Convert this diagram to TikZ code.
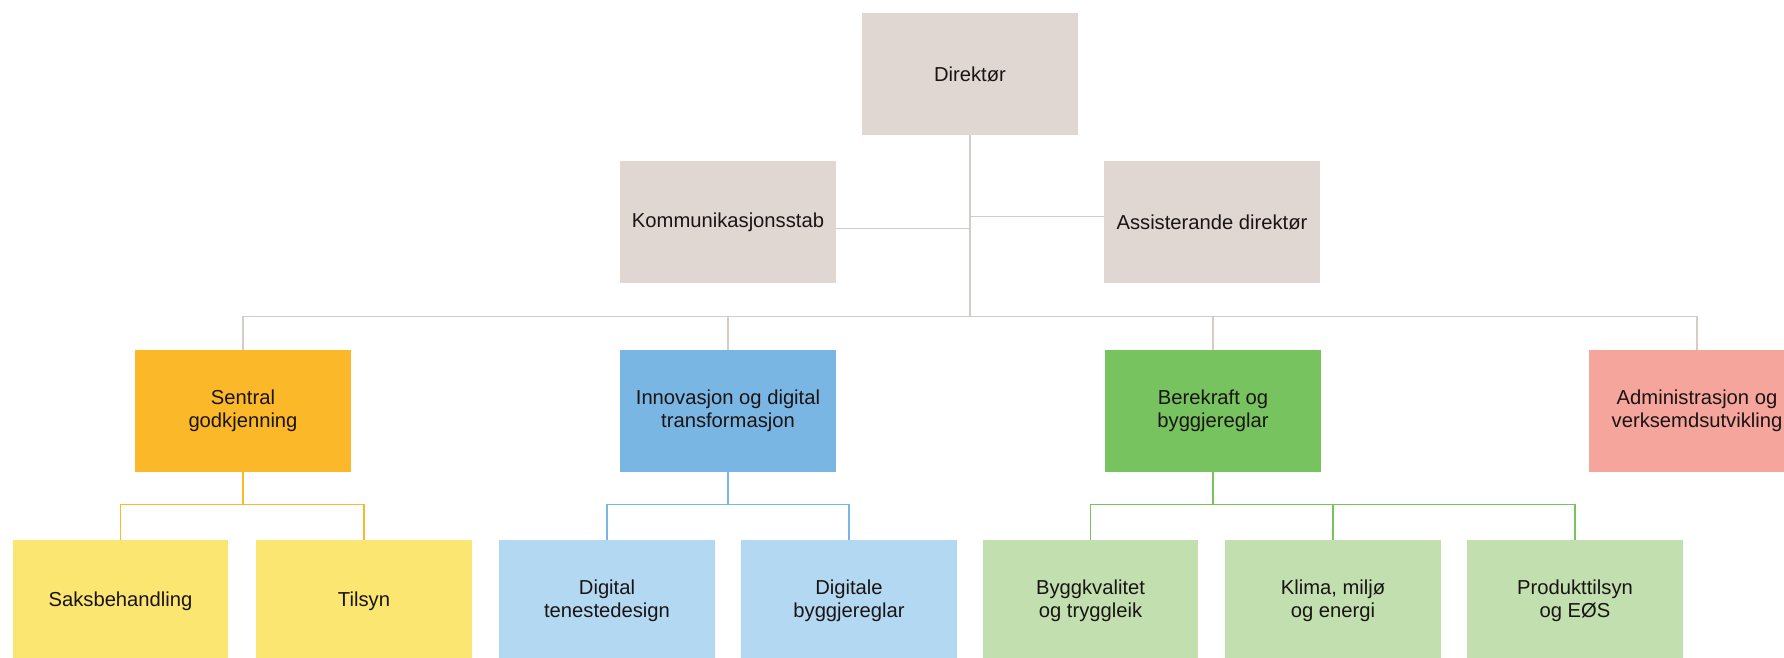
\documentclass[tikz,border=0pt]{standalone}
\usepackage{fontspec}
\setmainfont{Liberation Sans}
\usepackage{tikz}

\definecolor{beige}{HTML}{E0D7D3}
\definecolor{linjegraa}{HTML}{D4CCC9}
\definecolor{oransje}{HTML}{FBB829}
\definecolor{gul}{HTML}{FAE671}
\definecolor{blaa}{HTML}{7AB6E3}
\definecolor{lyseblaa}{HTML}{B3D9F2}
\definecolor{groenn}{HTML}{77C35F}
\definecolor{lysegroenn}{HTML}{C2DFAF}
\definecolor{rosa}{HTML}{F6A59C}
\definecolor{tekst}{HTML}{1A1414}

\tikzset{
  boks/.style={rectangle, minimum width=4.32cm, minimum height=2.44cm, inner sep=0pt,
    align=center, text=tekst, font=\fontsize{11.5}{13}\selectfont},
  linje/.style={draw=#1, line width=0.9pt}
}

\begin{document}
\begin{tikzpicture}[x=0.02cm,y=-0.02cm]
\useasboundingbox (0,0) rectangle (1784,657);
\clip (0,0) rectangle (1784,657);
% leiing
\node[boks, fill=beige] (dir) at (970,74) {Direktør};
\node[boks, fill=beige] (komm) at (728,222) {Kommunikasjonsstab};
\node[boks, fill=beige] (asst) at (1212,222) {Assisterande direktør};
% avdelingar
\node[boks, fill=oransje] (sentral) at (243,411) {Sentral\\godkjenning};
\node[boks, fill=blaa] (innov) at (728,411) {Innovasjon og digital\\transformasjon};
\node[boks, fill=groenn] (berek) at (1213,411) {Berekraft og\\byggjereglar};
\node[boks, fill=rosa] (admin) at (1697,411) {Administrasjon og\\verksemdsutvikling};
% seksjonar
\node[boks, fill=gul] (saks) at (120.5,601) {Saksbehandling};
\node[boks, fill=gul] (tilsyn) at (364,601) {Tilsyn};
\node[boks, fill=lyseblaa] (digdes) at (607,601) {Digital\\tenestedesign};
\node[boks, fill=lyseblaa] (digreg) at (849,601) {Digitale\\byggjereglar};
\node[boks, fill=lysegroenn] (bygg) at (1090.5,601) {Byggkvalitet\\og tryggleik};
\node[boks, fill=lysegroenn] (klima) at (1333,601) {Klima, miljø\\og energi};
\node[boks, fill=lysegroenn] (prod) at (1575,601) {Produkttilsyn\\og EØS};
% linjer frå direktør
\draw[linje=linjegraa] (dir.south) -- ++(0,181) coordinate (buss);
\draw[linje=linjegraa] ([yshift=-0.13cm]komm.east) -- ([yshift=-0.13cm]komm.east -| dir.south);
\draw[linje=linjegraa] ([yshift=0.11cm]asst.west) -- ([yshift=0.11cm]asst.west -| dir.south);
\draw[linje=linjegraa] (sentral.north) |- (buss) -| (admin.north);
\draw[linje=linjegraa] (innov.north) -- (innov.north |- buss);
\draw[linje=linjegraa] (berek.north) -- (berek.north |- buss);
% linjer til seksjonar
\draw[linje=oransje] (sentral.south) -- ++(0,32) coordinate (sb);
\draw[linje=oransje] (saks.north) |- (sb) -| (tilsyn.north);
\draw[linje=blaa] (innov.south) -- ++(0,32) coordinate (ib);
\draw[linje=blaa] (digdes.north) |- (ib) -| (digreg.north);
\draw[linje=groenn] (berek.south) -- ++(0,32) coordinate (bb);
\draw[linje=groenn] (bygg.north) |- (bb) -| (prod.north);
\draw[linje=groenn] (klima.north) -- (klima.north |- bb);
\end{tikzpicture}
\end{document}
